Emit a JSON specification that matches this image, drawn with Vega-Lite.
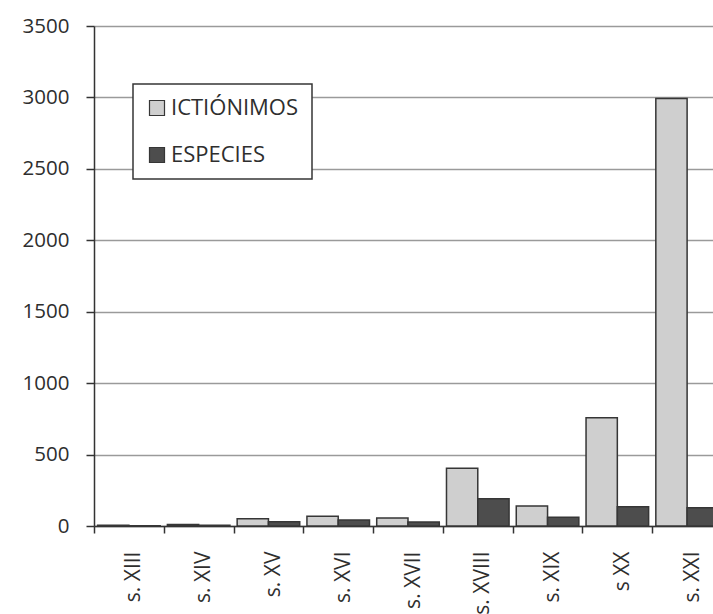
{
  "$schema": "https://vega.github.io/schema/vega-lite/v6.json",
  "autosize": {"type": "none"},
  "padding": {"left": 94, "top": 26, "right": -9, "bottom": 88},
  "width": 628,
  "height": 500,
  "background": "white",
  "data": {
    "values": [
      {"siglo": "s. XIII", "serie": "ICTIÓNIMOS", "n": 5},
      {"siglo": "s. XIII", "serie": "ESPECIES", "n": 2},
      {"siglo": "s. XIV", "serie": "ICTIÓNIMOS", "n": 10},
      {"siglo": "s. XIV", "serie": "ESPECIES", "n": 6},
      {"siglo": "s. XV", "serie": "ICTIÓNIMOS", "n": 51},
      {"siglo": "s. XV", "serie": "ESPECIES", "n": 30},
      {"siglo": "s. XVI", "serie": "ICTIÓNIMOS", "n": 68},
      {"siglo": "s. XVI", "serie": "ESPECIES", "n": 42},
      {"siglo": "s. XVII", "serie": "ICTIÓNIMOS", "n": 56},
      {"siglo": "s. XVII", "serie": "ESPECIES", "n": 28},
      {"siglo": "s. XVIII", "serie": "ICTIÓNIMOS", "n": 404},
      {"siglo": "s. XVIII", "serie": "ESPECIES", "n": 191},
      {"siglo": "s. XIX", "serie": "ICTIÓNIMOS", "n": 140},
      {"siglo": "s. XIX", "serie": "ESPECIES", "n": 61},
      {"siglo": "s XX", "serie": "ICTIÓNIMOS", "n": 758},
      {"siglo": "s XX", "serie": "ESPECIES", "n": 135},
      {"siglo": "s. XXI", "serie": "ICTIÓNIMOS", "n": 2993},
      {"siglo": "s. XXI", "serie": "ESPECIES", "n": 128}
    ]
  },
  "mark": {"type": "bar", "stroke": "#363636", "strokeWidth": 1.5},
  "encoding": {
    "x": {
      "field": "siglo",
      "type": "nominal",
      "sort": ["s. XIII", "s. XIV", "s. XV", "s. XVI", "s. XVII", "s. XVIII", "s. XIX", "s XX", "s. XXI"],
      "scale": {"paddingInner": 0, "paddingOuter": 0},
      "axis": {
        "title": null,
        "labelAngle": -90,
        "labelOffset": 5,
        "labelPadding": 18,
        "tickBand": "extent",
        "tickSize": 7,
        "tickColor": "#333333",
        "tickWidth": 1.5,
        "domainColor": "#333333",
        "domainWidth": 1.5,
        "grid": false
      }
    },
    "xOffset": {
      "field": "serie",
      "type": "nominal",
      "sort": ["ICTIÓNIMOS", "ESPECIES"],
      "scale": {"paddingInner": 0, "paddingOuter": 0.115}
    },
    "y": {
      "field": "n",
      "type": "quantitative",
      "scale": {"domain": [0, 3500], "nice": false},
      "axis": {
        "title": null,
        "format": "d",
        "values": [0, 500, 1000, 1500, 2000, 2500, 3000, 3500],
        "tickSize": 8,
        "tickColor": "#333333",
        "tickWidth": 1.5,
        "labelPadding": 17,
        "domainColor": "#333333",
        "domainWidth": 1.5,
        "grid": true,
        "gridColor": "#9a9a9a",
        "gridWidth": 1.5
      }
    },
    "color": {
      "field": "serie",
      "type": "nominal",
      "sort": ["ICTIÓNIMOS", "ESPECIES"],
      "scale": {"domain": ["ICTIÓNIMOS", "ESPECIES"], "range": ["#cfcfcf", "#4d4d4d"]},
      "legend": {
        "title": null,
        "orient": "none",
        "legendX": 39,
        "legendY": 58,
        "symbolType": "square",
        "symbolSize": 225,
        "symbolStrokeColor": "#363636",
        "symbolStrokeWidth": 1.2,
        "labelFontSize": 22,
        "labelOffset": 3,
        "rowPadding": 25,
        "padding": 13,
        "fillColor": "white"
      }
    }
  },
  "config": {
    "font": "Open Sans",
    "view": {"stroke": null},
    "axis": {"labelFont": "Open Sans", "labelFontSize": 20.5, "labelColor": "#2e2e2e"},
    "axisX": {"labelFontSize": 21},
    "legend": {
      "labelFont": "Open Sans",
      "labelColor": "#2e2e2e",
      "strokeColor": "#363636",
      "strokeWidth": 1.5
    }
  }
}
